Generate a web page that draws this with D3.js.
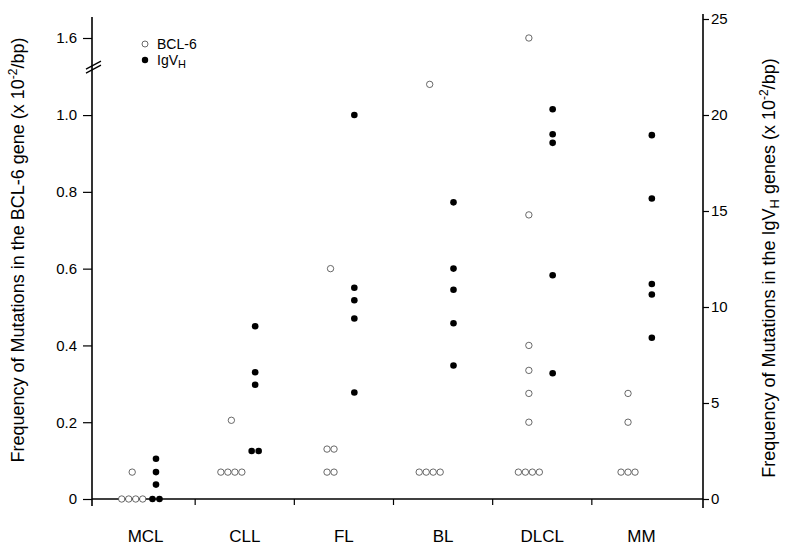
<!DOCTYPE html>
<html>
<head>
    <meta charset="utf-8">
    <title>BCL-6 and IgVH mutation frequency</title>
    <script src="https://d3js.org/d3.v7.min.js"></script>
    <style>
        body { margin: 0; background: white; }
        svg { font-family: "Liberation Sans", Arial, sans-serif; }
    </style>
</head>
<body>
    <svg id="chart"></svg>
    <script>
        const width = 793, height = 556;

        // data
        const categories = ["MCL", "CLL", "FL", "BL", "DLCL", "MM"];
        // BCL-6 mutation frequency (x 10^-2/bp), left axis
        const bcl6 = [
            [0, 0, 0, 0, 0.07],
            [0.07, 0.07, 0.07, 0.07, 0.205],
            [0.6, 0.13, 0.13, 0.07, 0.07],
            [1.08, 0.07, 0.07, 0.07, 0.07],
            [1.6, 0.74, 0.4, 0.335, 0.275, 0.2, 0.07, 0.07, 0.07, 0.07],
            [0.275, 0.2, 0.07, 0.07, 0.07]
        ];
        // IgVH mutation frequency (x 10^-2/bp), right axis
        const igvh = [
            [2.1, 1.4, 0.75, 0, 0],
            [9.0, 6.6, 5.95, 2.5, 2.5],
            [20.0, 11.0, 10.35, 9.4, 5.55],
            [15.45, 12.0, 10.9, 9.15, 6.95],
            [20.3, 19.0, 18.55, 11.65, 6.55],
            [18.95, 15.65, 11.2, 10.65, 8.4]
        ];
        const leftTicks = [0, 0.2, 0.4, 0.6, 0.8, 1.0, 1.6];
        const rightTicks = [0, 5, 10, 15, 20, 25];
        const breakValue = 1.18;

        const axisLeftX = 92, axisRightX = 703, baseY = 499;

        const svg = d3.select("#chart")
            .attr("width", width)
            .attr("height", height);

        const x = d3.scaleBand().domain(categories).range([96, 691]);
        const yL = d3.scaleLinear().domain([0, 1.12, 1.6]).range([baseY, 69, 38]);
        const yR = d3.scaleLinear().domain([0, 25]).range([baseY, 19]);

        // axis lines
        svg.append("line")
            .attr("x1", axisLeftX).attr("x2", axisLeftX)
            .attr("y1", 17).attr("y2", 506)
            .attr("stroke", "black").attr("stroke-width", 1.6);
        svg.append("line")
            .attr("x1", axisRightX).attr("x2", axisRightX)
            .attr("y1", 14).attr("y2", 508)
            .attr("stroke", "black").attr("stroke-width", 1.6);
        svg.append("line")
            .attr("x1", axisLeftX).attr("x2", axisRightX)
            .attr("y1", baseY).attr("y2", baseY)
            .attr("stroke", "black").attr("stroke-width", 1.6);

        // left axis
        const gL = svg.append("g")
            .attr("transform", `translate(${axisLeftX},0)`)
            .call(d3.axisLeft(yL).tickValues(leftTicks).tickSize(9).tickSizeOuter(0)
                .tickFormat(d => d === 0 ? "0" : d3.format(".1f")(d)));
        gL.select(".domain").remove();
        gL.selectAll(".tick line").attr("stroke-width", 1.2);
        gL.selectAll(".tick text").attr("font-size", 15).attr("font-family", null).attr("x", -15);

        // axis break marks
        [0, 4].forEach(dy => {
            svg.append("line")
                .attr("x1", axisLeftX - 6).attr("x2", axisLeftX + 9)
                .attr("y1", yL(breakValue) + 4 + dy).attr("y2", yL(breakValue) - 4 + dy)
                .attr("stroke", "black").attr("stroke-width", 1.2);
        });

        // right axis
        const gR = svg.append("g")
            .attr("transform", `translate(${axisRightX},0)`)
            .call(d3.axisRight(yR).tickValues(rightTicks).tickSize(6).tickSizeOuter(0));
        gR.select(".domain").remove();
        gR.selectAll(".tick line").attr("stroke-width", 1.2);
        gR.selectAll(".tick text").attr("font-size", 15).attr("font-family", null).attr("x", 8);

        // category dividers and labels
        svg.selectAll("line.divider")
            .data(categories.slice(1))
            .join("line")
            .attr("class", "divider")
            .attr("x1", d => x(d)).attr("x2", d => x(d))
            .attr("y1", baseY).attr("y2", baseY + 6)
            .attr("stroke", "black").attr("stroke-width", 1.2);

        svg.selectAll("text.cat")
            .data(categories)
            .join("text")
            .attr("class", "cat")
            .attr("x", d => x(d) + x.bandwidth() / 2)
            .attr("y", 542)
            .attr("text-anchor", "middle")
            .attr("font-size", 17)
            .text(d => d);

        // axis titles
        const leftTitle = svg.append("text")
            .attr("transform", "translate(24,250) rotate(-90)")
            .attr("text-anchor", "middle")
            .attr("font-size", 18);
        leftTitle.append("tspan").text("Frequency of Mutations in the BCL-6 gene (x 10");
        leftTitle.append("tspan").attr("dy", -7).attr("font-size", 12).text("-2");
        leftTitle.append("tspan").attr("dy", 7).text("/bp)");

        const rightTitle = svg.append("text")
            .attr("transform", "translate(775,268) rotate(-90)")
            .attr("text-anchor", "middle")
            .attr("font-size", 18);
        rightTitle.append("tspan").text("Frequency of Mutations in the IgV");
        rightTitle.append("tspan").attr("dy", 4).attr("font-size", 13).text("H");
        rightTitle.append("tspan").attr("dy", -4).text(" genes (x 10");
        rightTitle.append("tspan").attr("dy", -7).attr("font-size", 12).text("-2");
        rightTitle.append("tspan").attr("dy", 7).text("/bp)");

        // points: identical values in a column are placed side by side
        function layout(values, scale, frac) {
            const pts = [];
            values.forEach((vals, ci) => {
                const groups = d3.group(vals, v => v);
                groups.forEach((arr, v) => {
                    arr.forEach((_, k) => {
                        pts.push({
                            cx: x(categories[ci]) + x.bandwidth() * frac + (k - (arr.length - 1) / 2) * 7,
                            cy: scale(v)
                        });
                    });
                });
            });
            return pts;
        }

        svg.selectAll("circle.bcl")
            .data(layout(bcl6, yL, 0.365))
            .join("circle")
            .attr("class", "bcl")
            .attr("cx", d => d.cx).attr("cy", d => d.cy)
            .attr("r", 3.2)
            .attr("fill", "white")
            .attr("stroke", "#444")
            .attr("stroke-width", 0.8);

        svg.selectAll("circle.igvh")
            .data(layout(igvh, yR, 0.605))
            .join("circle")
            .attr("class", "igvh")
            .attr("cx", d => d.cx).attr("cy", d => d.cy)
            .attr("r", 3.3)
            .attr("fill", "black");

        // legend
        const legend = svg.append("g").attr("transform", "translate(145,44)");
        legend.append("circle").attr("r", 3).attr("fill", "white").attr("stroke", "#444").attr("stroke-width", 0.8);
        legend.append("text").attr("x", 12).attr("y", 5).attr("font-size", 14).text("BCL-6");
        legend.append("circle").attr("cy", 16).attr("r", 3.2).attr("fill", "black");
        const lt = legend.append("text").attr("x", 12).attr("y", 21).attr("font-size", 14);
        lt.append("tspan").text("IgV");
        lt.append("tspan").attr("dy", 3).attr("font-size", 11).text("H");
    </script>
</body>
</html>
